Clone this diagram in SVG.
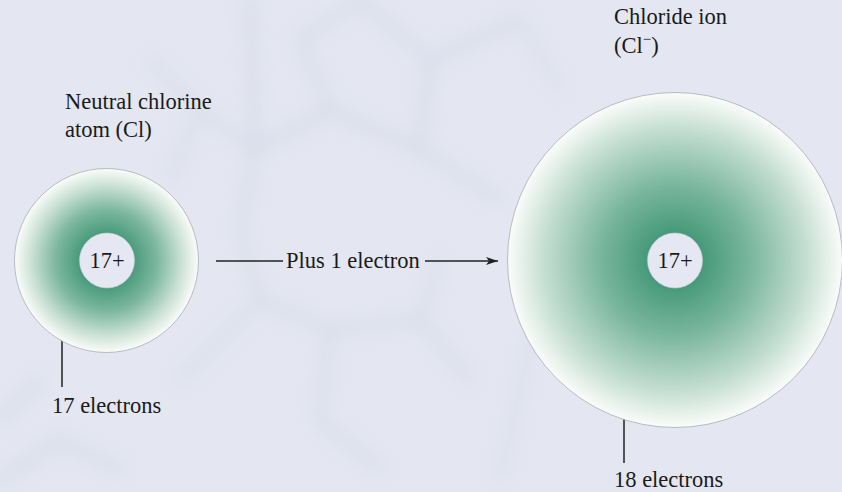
<svg xmlns="http://www.w3.org/2000/svg" width="842" height="492" viewBox="0 0 842 492">
  <defs>
    <style>
      .lbl { font-family: "Liberation Serif", "Times New Roman", serif; font-size: 22.5px; fill: #1a1a1a; }
      .nuc { fill: #e5e8f2; stroke: #c9ccd6; stroke-width: 0.6; }
      .cloud { stroke: #a9acb4; stroke-width: 0.8; }
      .lead { stroke: #222; stroke-width: 1.5; fill: none; }
      .bgl { stroke: #c3c8dc; fill: none; stroke-linecap: round; }
    </style>
    <radialGradient id="gSmall" cx="0.5" cy="0.5" r="0.5">
      <stop offset="0.28" stop-color="#46997a"/>
      <stop offset="0.55" stop-color="#7cb79f"/>
      <stop offset="0.82" stop-color="#cce2d6"/>
      <stop offset="1" stop-color="#fbfcfa"/>
    </radialGradient>
    <radialGradient id="gLarge" cx="0.5" cy="0.5" r="0.5">
      <stop offset="0.16" stop-color="#46997a"/>
      <stop offset="0.45" stop-color="#7ab69e"/>
      <stop offset="0.78" stop-color="#c4ded1"/>
      <stop offset="1" stop-color="#fbfcfa"/>
    </radialGradient>
    <filter id="blur" x="-20%" y="-20%" width="140%" height="140%">
      <feGaussianBlur stdDeviation="9"/>
    </filter>
    <marker id="arrow" viewBox="0 0 12 8" refX="12" refY="4" markerWidth="12" markerHeight="8" markerUnits="userSpaceOnUse" orient="auto">
      <path d="M0,0 L12,4 L0,8 L3,4 Z" fill="#222"/>
    </marker>
  </defs>

  <rect width="842" height="492" fill="#e4e7f1"/>
  <g id="background" filter="url(#blur)" opacity="0.4">
    <path class="bgl" stroke-width="9" d="M250,0 L255,150 L330,110 L420,150 L430,60 L520,20"/>
    <path class="bgl" stroke-width="8" d="M255,150 L240,230 M330,110 L300,40 L360,0"/>
    <path class="bgl" stroke-width="8" d="M420,150 L500,200 M430,60 L360,0"/>
    <path class="bgl" stroke-width="7" d="M150,60 L200,110 L255,150 M200,110 L170,180"/>
    <path class="bgl" stroke-width="8" d="M260,300 L330,330 L420,320 L470,380 M330,330 L320,420 L380,470"/>
    <path class="bgl" stroke-width="7" d="M420,320 L440,260 M180,380 L260,300 L240,230"/>
    <path class="bgl" stroke-width="9" d="M0,480 L60,440 L120,470 M0,420 L40,380"/>
    <path class="bgl" stroke-width="6" d="M520,20 L560,90 M540,300 L500,480"/>
  </g>

  <g id="connectors">
    <line class="lead" x1="216" y1="261" x2="283" y2="261"/>
    <line class="lead" x1="425" y1="261" x2="498" y2="261" marker-end="url(#arrow)"/>
    <line class="lead" x1="62" y1="333" x2="62" y2="387"/>
    <line class="lead" x1="624" y1="408" x2="624" y2="463"/>
  </g>

  <g id="neutral-atom">
    <circle class="cloud" cx="106.5" cy="260.5" r="92" fill="url(#gSmall)"/>
    <circle class="nuc" cx="107" cy="260.5" r="27.5"/>
    <text class="lbl" x="107" y="268" text-anchor="middle">17+</text>
  </g>

  <g id="chloride-ion">
    <circle class="cloud" cx="675" cy="260" r="167.5" fill="url(#gLarge)"/>
    <circle class="nuc" cx="675" cy="260.5" r="27.5"/>
    <text class="lbl" x="675" y="268" text-anchor="middle">17+</text>
  </g>

  <g id="labels">
    <text class="lbl" x="65" y="109">Neutral chlorine</text>
    <text class="lbl" x="65" y="137">atom (Cl)</text>
    <text class="lbl" x="614" y="24">Chloride ion</text>
    <text class="lbl" x="614" y="53">(Cl<tspan dy="-9" font-size="15">−</tspan><tspan dy="9">)</tspan></text>
    <text class="lbl" x="286" y="268">Plus 1 electron</text>
    <text class="lbl" x="52" y="413">17 electrons</text>
    <text class="lbl" x="614" y="487">18 electrons</text>
  </g>
</svg>
